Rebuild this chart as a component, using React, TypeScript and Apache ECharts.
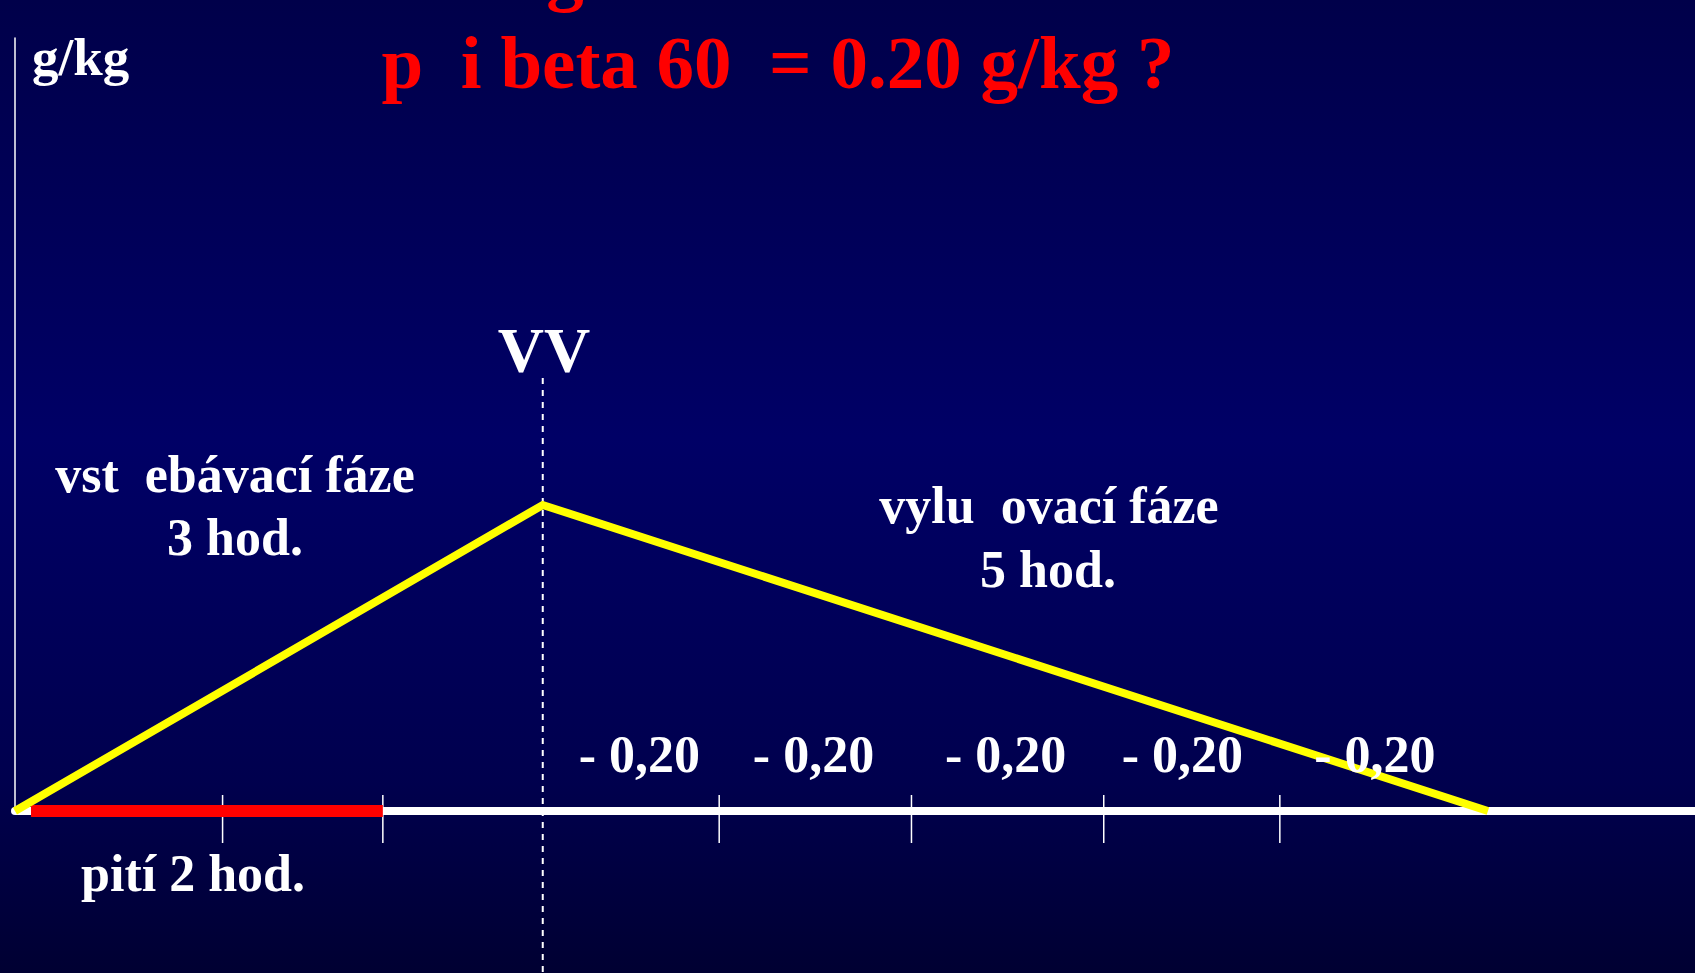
import React, { useEffect, useRef } from "react";
import * as echarts from "echarts";

// Schematic time axis in hours, concentration in g/kg
const curveHours = [0, 3, 8.373];
const curveValues = [0, 1.0, 0];
const drinkHours = [0.091, 2.091];
const tickHours = [1.18, 2.091, 4.003, 5.096, 6.189, 7.19];
const peakHour = 3;
const dashTopValue = 1.415;
const stepLabelHours = [3.549, 4.539, 5.631, 6.636, 7.73];
const stepLabelValue = 0.183;
const stepLabels = ["- 0,20", "- 0,20", "- 0,20", "- 0,20", "- 0,20"];

const FONT = "'Liberation Serif', 'Times New Roman', serif";

export default function App() {
  const ref = useRef<HTMLDivElement>(null);
  useEffect(() => {
    document.body.style.margin = "0";
    const chart = echarts.init(ref.current!, null, { renderer: "svg" });
    const white = "#ffffff";
    const txt = (text: string, x: number, y: number, size: number, fill = white, align = "center") => ({
      type: "text",
      x,
      y,
      silent: true,
      style: {
        text,
        fill,
        font: `bold ${size}px ${FONT}`,
        textAlign: align,
        textVerticalAlign: "middle",
      },
    });
    chart.setOption({
      animation: false,
      backgroundColor: {
        type: "linear",
        x: 0,
        y: 0,
        x2: 0,
        y2: 1,
        colorStops: [
          { offset: 0, color: "#00004a" },
          { offset: 0.45, color: "#000066" },
          { offset: 0.8, color: "#00004e" },
          { offset: 1, color: "#000032" },
        ],
      },
      grid: { left: 15, right: 0, top: 38, bottom: 162 },
      xAxis: {
        type: "value",
        min: 0,
        max: 9.55,
        axisLine: { show: true, onZero: false, lineStyle: { color: white, width: 8 } },
        axisTick: { show: false },
        axisLabel: { show: false },
        splitLine: { show: false },
      },
      yAxis: {
        type: "value",
        min: 0,
        max: 2.526,
        axisLine: { show: true, lineStyle: { color: white, width: 1.5 } },
        axisTick: { show: false },
        axisLabel: { show: false },
        splitLine: { show: false },
      },
      series: [
        {
          type: "custom",
          name: "ticks",
          data: tickHours.map((h) => [h, 0]),
          z: 3,
          renderItem: (params: any, api: any) => {
            const p = api.coord([api.value(0), 0]);
            return {
              type: "line",
              shape: { x1: p[0], y1: p[1] - 16, x2: p[0], y2: p[1] + 32 },
              style: { stroke: white, lineWidth: 1.5 },
            };
          },
        },
        {
          type: "line",
          name: "pití",
          data: drinkHours.map((h) => [h, 0]),
          symbol: "none",
          lineStyle: { color: "#ff0000", width: 12, cap: "butt" },
          z: 4,
        },
        {
          type: "custom",
          name: "VV",
          data: [[peakHour, dashTopValue]],
          z: 5,
          renderItem: (params: any, api: any) => {
            const p = api.coord([api.value(0), api.value(1)]);
            return {
              type: "line",
              shape: { x1: p[0], y1: p[1], x2: p[0], y2: api.getHeight() },
              style: { stroke: white, lineWidth: 2, lineDash: [6, 6] },
            };
          },
        },
        {
          type: "line",
          name: "koncentrace",
          data: curveHours.map((h, i) => [h, curveValues[i]]),
          symbol: "none",
          lineStyle: { color: "#ffff00", width: 8, cap: "butt", join: "miter" },
          z: 6,
        },
        {
          type: "scatter",
          name: "odbourání",
          data: stepLabelHours.map((h, i) => ({ value: [h, stepLabelValue], name: stepLabels[i] })),
          symbolSize: 0,
          z: 7,
          itemStyle: { opacity: 1 },
          label: {
            show: true,
            position: "inside",
            formatter: (p: any) => p.name,
            color: white,
            opacity: 1,
            fontFamily: FONT,
            fontWeight: "bold",
            fontSize: 52,
          },
        },
      ],
      graphic: [
        txt("g", 565, -29, 75, "#ff0000"),
        txt("p  i beta 60  = 0.20 g/kg ?", 778, 62, 75, "#ff0000"),
        txt("g/kg", 32, 57, 53, white, "left"),
        txt("VV", 544, 350, 64),
        txt("vst  ebávací fáze", 235, 474, 52),
        txt("3 hod.", 235, 537, 52),
        txt("vylu  ovací fáze", 1049, 505, 52),
        txt("5 hod.", 1048, 569, 52),
        txt("pití 2 hod.", 193, 873, 52),
      ],
    });
    return () => chart.dispose();
  }, []);
  return <div ref={ref} style={{ width: 1695, height: 973 }} />;
}
